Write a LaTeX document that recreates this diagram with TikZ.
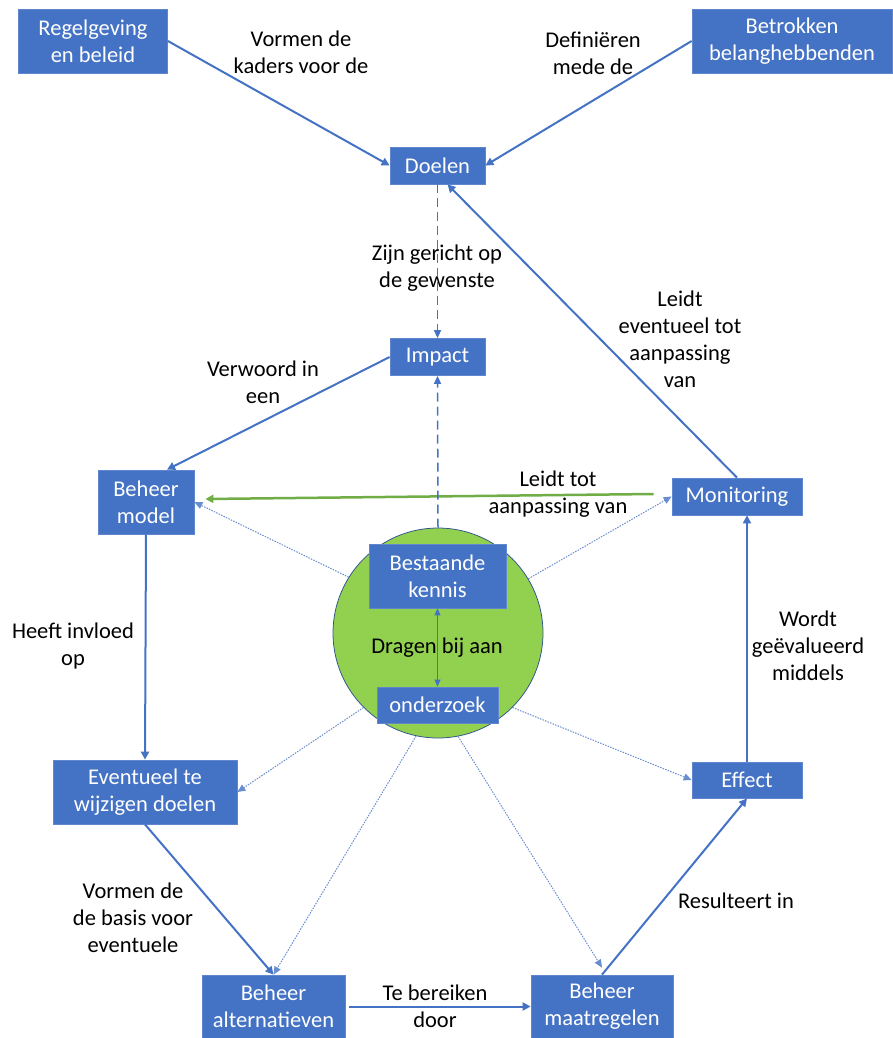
\documentclass[tikz,border=0pt]{standalone}
\usepackage{fontspec}
\setmainfont{Carlito}
\usetikzlibrary{arrows.meta}
\definecolor{vakblauw}{HTML}{4472C4}
\definecolor{kringgroen}{HTML}{92D050}
\definecolor{kringrand}{HTML}{2F528F}
\definecolor{pijlgroen}{HTML}{70AD47}
\begin{document}
\begin{tikzpicture}[x=1pt,y=-1pt,
    vak/.style={fill=vakblauw,draw=vakblauw!85!white,line width=0.75pt,text=white,align=center,inner sep=0pt,font=\fontsize{22.5}{27}\selectfont},
    tekst/.style={align=center,inner sep=0pt,font=\fontsize{22.5}{27}\selectfont},
    pijl/.style={draw=vakblauw,line width=2pt,-{Triangle[length=8pt,width=8pt]}},
    streep/.style={draw=vakblauw,line width=1.5pt,dash pattern=on 9pt off 5pt,-{Triangle[length=8pt,width=7pt]}},
    stip/.style={draw=vakblauw!80!white,line width=1pt,dash pattern=on 1.5pt off 1.2pt,-{Triangle[length=8pt,width=7pt]}}]
                \useasboundingbox (0,0) rectangle (893,1038);
                %% bovenste rij
                \node[vak,minimum width=149,minimum height=64] (regel) at (93,41) {Regelgeving\\en beleid};
                \node[vak,minimum width=200,minimum height=64] (betrok) at (792,41) {Betrokken\\belanghebbenden};
                \node[vak,minimum width=95,minimum height=37] (doelen) at (437.5,165.5) {Doelen};
                \node[vak,minimum width=95,minimum height=37] (impact) at (437.5,357) {Impact};
                %% middelste rij
                \node[vak,minimum width=96,minimum height=64] (beheermodel) at (146,502) {Beheer\\model};
                \node[vak,minimum width=130,minimum height=37] (monitoring) at (737,496.5) {Monitoring};
                %% kennis en onderzoek
                \node[circle,fill=kringgroen,draw=kringrand,line width=0.75pt,minimum size=210,inner sep=0pt] (kring) at (438,633) {};
                \node[vak,minimum width=137,minimum height=64] (kennis) at (437.5,576) {Bestaande\\kennis};
                \node[vak,minimum width=121,minimum height=36] (onderzoek) at (437.5,705) {onderzoek};
                %% onderste rij
                \node[vak,minimum width=184,minimum height=64] (eventueel) at (145,792) {Eventueel te\\wijzigen doelen};
                \node[vak,minimum width=110,minimum height=36] (effect) at (747,780) {Effect};
                \node[vak,minimum width=143,minimum height=63] (alternatieven) at (273.5,1006.5) {Beheer\\alternatieven};
                \node[vak,minimum width=142,minimum height=63] (maatregelen) at (602,1006.5) {Beheer\\maatregelen};
                %% labels
                \node[tekst] (lkaders) at (301,52) {Vormen de\\kaders voor de};
                \node[tekst] (lmede) at (593,53) {Definiëren\\mede de};
                \node[tekst] (lgericht) at (437,268) {Zijn gericht op\\de gewenste};
                \node[tekst] (lverwoord) at (263,382) {Verwoord in\\een};
                \node[tekst] (leventueel) at (680,339) {Leidt\\eventueel tot\\aanpassing\\van};
                \node[tekst] (laanpassing) at (558,494) {Leidt tot\\aanpassing van};
                \node[tekst] (linvloed) at (73,646) {Heeft invloed\\op};
                \node[tekst] (ldragen) at (437,648) {Dragen bij aan};
                \node[tekst] (lgeevalueerd) at (808,646) {Wordt\\geëvalueerd\\middels};
                \node[tekst] (lbasis) at (133,918) {Vormen de\\de basis voor\\eventuele};
                \node[tekst] (lbereiken) at (435,1006) {Te bereiken\\door};
                \node[tekst] (lresulteert) at (736,901) {Resulteert in};
                %% doorgetrokken pijlen
                \draw[pijl] (regel.east) -- (doelen.west);
                \draw[pijl] (betrok.west) -- (doelen.east);
                \draw[pijl] (monitoring.north) -- ([xshift=10pt]doelen.south);
                \draw[pijl] (impact.west) -- ([xshift=21pt]beheermodel.north);
                \draw[pijl] (beheermodel.south) -- (eventueel.north);
                \draw[pijl] (eventueel.south) -- (alternatieven.north);
                \draw[pijl] ([xshift=4pt]alternatieven.east) -- (maatregelen.west);
                \draw[pijl] (maatregelen.north) -- (effect.south);
                \draw[pijl] (effect.north) -- (effect.north |- monitoring.south);
                \draw[pijl,draw=pijlgroen,line width=2.5pt] ([xshift=-18pt,yshift=2.5pt]monitoring.west) -- ([xshift=11pt,yshift=3pt]beheermodel.east);
                %% gestreepte pijlen
                \draw[streep] (doelen.south) -- (impact.north);
                \draw[streep] (kring.north) -- (impact.south);
                \draw[draw=vakblauw,line width=1pt,{Triangle[length=7pt,width=6pt]}-{Triangle[length=7pt,width=6pt]}] (kennis.south) -- (onderzoek.north);
                %% gestippelde pijlen
                \draw[stip] (kring.148) -- (beheermodel.east);
                \draw[stip] (kring.31) -- (monitoring.west);
                \draw[stip] (kring.225) -- (eventueel.east);
                \draw[stip] (kring.258) -- (alternatieven.north);
                \draw[stip] (kring.-45) -- (effect.west);
                \draw[stip] (kring.-79) -- ([yshift=7pt]maatregelen.north);
\end{tikzpicture}
\end{document}
